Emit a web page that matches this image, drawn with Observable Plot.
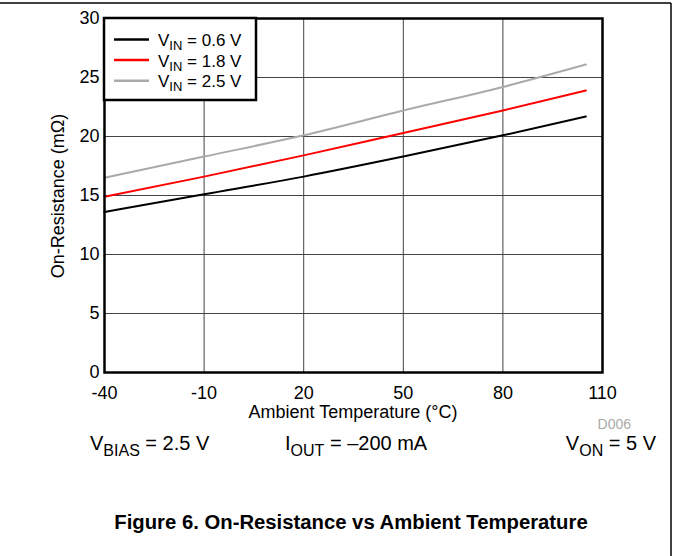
<!DOCTYPE html>
<html><head><meta charset="utf-8">
<script src="https://cdn.jsdelivr.net/npm/d3@7"></script>
<script src="https://cdn.jsdelivr.net/npm/@observablehq/plot@0.6"></script>
<style>
html,body{margin:0;padding:0;background:#fff;}
svg{font-family:"Liberation Sans",Arial,sans-serif;}
</style></head>
<body><div id="chart"></div>
<script>
const temps = [-40, -10, 20, 50, 80, 105];
const vin06 = [13.6, 15.1, 16.6, 18.3, 20.1, 21.7];
const vin18 = [14.9, 16.6, 18.4, 20.3, 22.2, 23.9];
const vin25 = [16.5, 18.3, 20.1, 22.2, 24.2, 26.1];
const seriesNames = ["0.6", "1.8", "2.5"];
const seriesColors = ["#000000", "#ff0000", "#aaaaaa"];
const xTicks = [-40, -10, 20, 50, 80, 110];
const yTicks = [0, 5, 10, 15, 20, 25, 30];

const allSeries = [vin06, vin18, vin25];
const rows = [];
allSeries.forEach((vals, i) => temps.forEach((t, j) => rows.push({s: seriesNames[i], t, r: vals[j]})));

const W = 673, H = 556;
const chart = Plot.plot({
  width: W, height: H,
  marginLeft: 104, marginRight: 71, marginTop: 18, marginBottom: 184,
  style: {fontFamily: "Liberation Sans, Arial, sans-serif", fontSize: "18px", color: "#000", background: "#fff"},
  x: {domain: [-40, 110], label: null},
  y: {domain: [0, 30], label: null},
  color: {domain: seriesNames, range: seriesColors},
  marks: [
    Plot.gridX(xTicks, {stroke: "#444", strokeOpacity: 1, strokeWidth: 1}),
    Plot.gridY(yTicks, {stroke: "#444", strokeOpacity: 1, strokeWidth: 1}),
    Plot.line(rows, {x: "t", y: "r", z: "s", stroke: "s", strokeWidth: 2, curve: "monotone-x"}),
    Plot.frame({stroke: "#000", strokeWidth: 2.5}),
    Plot.axisX({ticks: xTicks, tickSize: 0, tickPadding: 14, fontSize: 18, label: null, tickFormat: d => String(d)}),
    Plot.axisY({ticks: yTicks, tickSize: 0, tickPadding: 5, fontSize: 18, label: null, tickFormat: d => String(d)})
  ]
});
document.getElementById("chart").appendChild(chart);

const svg = d3.select(chart);
const font = "Liberation Sans, Arial, sans-serif";

// page border
svg.append("line").attr("x1", 0).attr("x2", 671).attr("y1", 3).attr("y2", 3).attr("stroke", "#000").attr("stroke-width", 1.5);
svg.append("line").attr("x1", 671).attr("x2", 671).attr("y1", 3).attr("y2", H).attr("stroke", "#000").attr("stroke-width", 1.5);

// y label
svg.append("text").attr("transform", "translate(64,196) rotate(-90)").attr("text-anchor", "middle")
  .attr("font-family", font).attr("font-size", 18).text("On-Resistance (mΩ)");
// x label
svg.append("text").attr("x", 353).attr("y", 418).attr("text-anchor", "middle")
  .attr("font-family", font).attr("font-size", 18).text("Ambient Temperature (°C)");
// D006
svg.append("text").attr("x", 631).attr("y", 429).attr("text-anchor", "end")
  .attr("font-family", font).attr("font-size", 14).attr("fill", "#aaa").text("D006");

function subText(x, y, anchor, size, subSize, parts) {
  const t = svg.append("text").attr("x", x).attr("y", y).attr("text-anchor", anchor)
    .attr("font-family", font).attr("font-size", size);
  parts.forEach(p => {
    const ts = t.append("tspan").text(p.text);
    if (p.sub) ts.attr("dy", size * 0.28).attr("font-size", subSize);
    else if (p.back) ts.attr("dy", -size * 0.28);
  });
  return t;
}
// conditions
subText(90, 450, "start", 20, 16, [{text: "V"}, {text: "BIAS", sub: true}, {text: " = 2.5 V", back: true}]);
subText(285, 450, "start", 20, 16, [{text: "I"}, {text: "OUT", sub: true}, {text: " = \u2013200 mA", back: true}]);
subText(656, 450, "end", 20, 16, [{text: "V"}, {text: "ON", sub: true}, {text: " = 5 V", back: true}]);

// caption
svg.append("text").attr("x", 351).attr("y", 529).attr("text-anchor", "middle")
  .attr("font-family", font).attr("font-size", 20.3).attr("font-weight", "bold").text("Figure 6. On-Resistance vs Ambient Temperature");

// legend
const lg = svg.append("g");
lg.append("rect").attr("x", 104).attr("y", 18).attr("width", 152).attr("height", 82)
  .attr("fill", "#fff").attr("stroke", "#000").attr("stroke-width", 2.5);
seriesNames.forEach((n, i) => {
  const y = 39.5 + i * 20.6;
  lg.append("line").attr("x1", 114).attr("x2", 149).attr("y1", y).attr("y2", y)
    .attr("stroke", seriesColors[i]).attr("stroke-width", 2.5);
  const t = lg.append("text").attr("x", 158).attr("y", y + 6.5).attr("text-anchor", "start")
    .attr("font-family", font).attr("font-size", 17);
  t.append("tspan").text("V");
  t.append("tspan").attr("dy", 4).attr("font-size", 13).text("IN");
  t.append("tspan").attr("dy", -4).text(` = ${n} V`);
});
</script></body></html>
